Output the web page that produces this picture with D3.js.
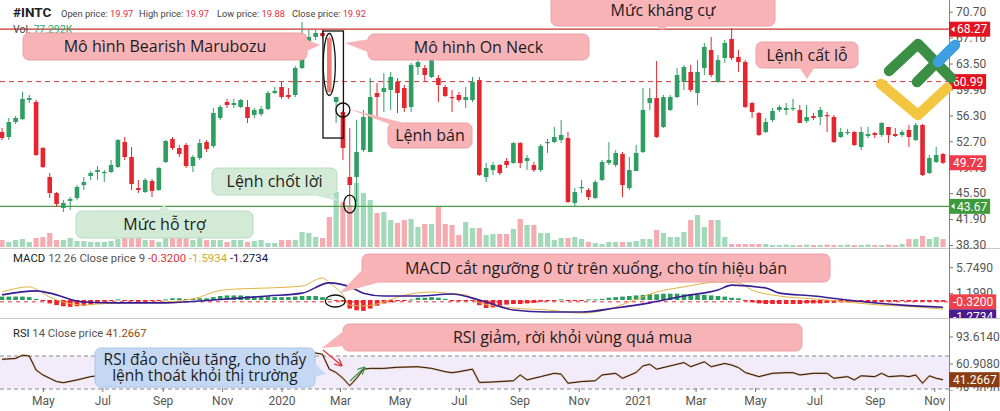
<!DOCTYPE html>
<html><head><meta charset="utf-8">
<script src="https://cdn.jsdelivr.net/npm/d3@7"></script>
<style>
html,body{margin:0;padding:0;background:#fff;}
svg{display:block;}
text{font-family:"Roboto","Liberation Sans",sans-serif;}
.note{font-family:"Open Sans","Noto Sans",sans-serif;font-weight:500;fill:#1c1c1c;}
</style></head><body>
<svg id="chart" width="1000" height="411"></svg>
<script>
// ---------------- DATA ----------------
const ticker = "#INTC";
const firstBar = "2019-03-20"; // weekly bars
const openP = [53.99,53.30,55.38,55.80,58.44,58.16,51.77,47.74,45.52,43.44,44.41,44.83,46.63,47.88,48.44,48.30,48.44,49.13,52.60,50.52,46.21,45.66,47.19,45.94,49.83,53.02,51.77,52.19,49.27,50.38,52.60,52.05,55.94,58.16,57.74,57.46,57.46,56.35,56.49,57.19,59.41,60.24,59.13,59.13,62.88,66.08,67.19,67.74,67.05,58.16,56.77,47.74,47.74,51.49,51.21,59.41,59.55,59.83,60.94,60.10,57.46,63.02,62.88,61.63,61.49,60.24,58.85,59.13,58.44,58.44,61.21,47.74,48.71,49.41,49.96,49.69,52.46,49.96,49.41,48.71,52.46,52.60,52.88,53.16,44.13,46.21,45.94,44.83,47.33,49.69,49.41,50.94,46.21,48.58,51.21,58.02,58.71,54.69,57.05,58.85,60.94,62.33,59.41,62.88,65.38,60.94,64.27,66.91,64.41,63.71,58.02,56.63,53.99,55.66,57.05,57.05,57.19,57.05,55.52,56.21,56.08,56.35,56.08,53.30,53.85,53.99,51.91,53.44,53.85,53.58,54.69,53.71,53.58,54.27,52.88,54.96,48.30,49.83,50.94];
const highP = [54.55,55.94,56.21,59.55,59.13,58.44,51.91,48.30,45.66,44.55,44.96,46.63,47.74,48.58,49.27,48.71,50.10,53.02,53.30,51.91,47.33,47.60,47.46,49.13,52.88,53.30,52.19,52.46,50.80,53.02,52.88,57.33,57.74,58.58,58.58,58.58,58.44,57.33,57.60,59.69,60.24,60.94,60.10,63.16,69.27,68.16,68.16,68.16,67.33,58.85,57.05,54.55,55.66,57.05,61.49,60.80,62.19,62.33,61.49,60.52,63.58,63.99,63.30,64.27,61.91,60.52,59.83,59.55,60.24,61.63,61.63,49.69,49.83,49.55,50.38,52.60,52.60,50.80,49.83,52.33,53.02,54.69,55.66,53.99,46.21,47.33,46.21,47.33,50.10,52.60,51.49,51.21,50.52,52.19,60.10,60.10,63.85,59.13,59.13,62.88,63.30,63.30,63.99,66.35,67.19,64.69,66.77,68.44,65.38,63.99,58.16,56.77,55.94,57.33,57.74,58.02,58.58,57.74,57.74,56.63,57.46,56.77,56.35,54.55,54.41,54.13,54.69,54.69,53.99,55.38,54.69,54.55,54.27,54.96,55.24,55.10,50.80,51.91,51.08];
const lowP = [52.88,52.88,55.10,55.66,58.02,50.66,48.99,44.83,43.58,42.88,43.16,44.55,45.94,47.33,47.33,47.05,48.30,48.99,50.10,45.94,45.52,45.52,44.96,45.80,49.69,51.49,50.52,48.99,48.44,50.10,51.21,51.77,55.66,57.33,57.33,57.33,55.24,55.94,56.21,57.05,59.27,58.58,58.58,58.85,62.74,65.38,66.77,67.05,59.41,55.24,50.10,43.85,44.27,51.21,51.21,56.08,56.77,57.05,56.63,56.77,56.77,61.91,60.94,61.49,58.16,58.85,56.77,58.16,57.33,58.16,47.88,47.05,48.02,48.02,48.99,49.55,48.99,48.71,48.44,48.44,51.08,52.46,52.46,44.13,43.58,45.52,44.55,44.69,47.19,49.41,49.13,44.96,45.94,48.58,51.08,57.05,53.16,54.55,56.91,58.71,59.83,59.55,57.74,61.91,61.63,60.80,63.58,63.99,62.33,57.33,55.94,53.44,53.85,55.38,56.77,56.35,56.91,55.24,55.24,55.66,54.96,53.99,52.46,53.16,53.58,52.05,51.49,53.16,53.16,53.30,52.46,53.30,53.30,51.91,52.74,47.88,48.16,49.69,49.55];
const closeP = [53.16,55.38,55.94,58.58,58.71,50.80,49.13,45.52,43.99,44.13,44.69,46.35,47.05,48.30,48.71,48.44,49.41,52.88,50.52,46.77,45.94,47.33,45.80,48.99,52.74,51.77,50.94,49.27,50.52,52.46,51.63,56.63,57.46,57.74,58.02,58.44,55.94,57.05,57.19,59.41,59.69,58.85,58.85,62.88,64.27,67.19,67.74,67.33,59.55,58.85,51.77,46.63,51.21,56.08,58.85,58.85,60.10,61.63,59.41,57.33,63.30,63.71,61.91,63.99,60.52,58.99,58.71,58.44,58.85,60.94,48.02,48.99,49.41,48.30,49.41,52.46,49.69,50.38,48.71,52.05,52.60,53.30,53.58,44.27,45.66,46.35,44.96,47.05,49.83,50.10,51.08,46.63,48.71,51.08,57.05,58.71,53.30,58.85,58.85,61.91,63.02,59.83,62.33,65.80,61.91,63.99,66.35,64.27,63.71,57.46,56.77,53.58,55.38,56.91,57.46,57.33,57.33,55.24,56.08,55.94,57.05,56.21,52.60,53.99,53.99,52.19,53.99,53.71,53.58,55.24,53.58,53.44,53.99,53.30,54.96,48.02,50.38,50.80,49.72];
// weekly volume, millions of shares
const volume = [35,25,35,40,25,45,50,70,35,35,45,30,30,25,25,25,30,40,50,55,45,35,35,25,45,50,50,55,35,45,35,35,35,25,35,35,25,30,35,20,20,35,35,35,75,70,50,45,150,275,225,210,320,270,235,170,175,135,120,135,140,100,115,115,200,115,110,60,125,95,95,60,65,65,65,90,140,110,110,70,70,35,45,45,50,40,25,20,15,25,25,25,25,30,40,40,85,70,50,50,75,135,160,100,135,135,50,15,15,15,15,15,15,10,10,12,10,10,12,10,10,12,10,10,12,10,10,12,10,10,12,10,15,40,40,55,40,50,40];
// key levels
const resistanceLevel = 68.27, stopLossLevel = 60.99, supportLevel = 43.67, lastClose = 49.72;
const priceTicks = [38.30,41.90,45.50,49.10,52.70,56.30,59.90,63.50,67.10,70.70];
// MACD 12 26 9: [bar index, value]
const macdLine = [[0,1.4],[4,2.3],[5,1.9],[7,0.5],[9,-0.35],[12,-0.9],[14,-0.7],[19,-0.5],[24,-0.35],[29,0.5],[31,1.4],[34,1.9],[39,2.1],[44,2.45],[47,3.85],[48,3.0],[50,0.9],[51,-0.9],[53,-1.05],[56,-0.35],[58,0.5],[63,1.4],[66,1.1],[68,0.9],[70,-0.5],[75,-1.4],[80,-1.75],[85,-2.3],[89,-1.6],[92,-0.35],[96,1.4],[100,2.3],[105,3.15],[108,3.0],[110,1.75],[114,0.7],[119,0.2],[124,-0.35],[129,-0.9],[132,-1.05],[138,-1.5934]];
const signalLine = [[0,0.9],[5,1.6],[7,1.2],[12,-0.35],[17,-0.5],[24,-0.5],[31,0],[39,0.7],[44,1.2],[48,3.0],[51,2.3],[53,1.2],[56,0.7],[61,0.7],[66,1.05],[70,0],[75,-1.75],[80,-2.1],[85,-2.1],[90,-1.4],[95,-0.5],[100,0.7],[105,1.75],[107,2.6],[112,2.1],[114,1.2],[119,0.7],[124,0],[132,-0.9],[138,-1.2734]];
const macdHist = [0.6,0.6,0.6,0.6,0.5,0.2,-0.1,-0.6,-0.9,-1.1,-1.2,-1.1,-1.0,-0.8,-0.6,-0.3,-0.2,0.1,-0.1,-0.2,-0.3,-0.3,-0.2,-0.1,0.1,0.3,0.3,0.2,0.2,0.3,0.3,0.5,0.7,0.8,0.8,0.8,0.7,0.6,0.6,0.6,0.5,0.5,0.5,0.6,0.7,0.7,0.7,0.5,0.2,-0.1,-0.3,-1.5,-1.8,-1.9,-1.5,-1.0,-0.6,-0.4,-0.2,-0.1,0.1,0.4,0.4,0.5,0.4,0.2,-0.2,-0.2,-0.1,-0.1,-0.9,-1.4,-1.3,-1.0,-0.8,-0.7,-0.7,-0.6,-0.5,-0.3,-0.2,-0.1,0.1,-0.1,-0.2,-0.1,0.1,0.1,0.2,0.4,0.5,0.6,0.7,0.8,0.9,1.0,1.0,1.1,1.1,1.1,1.0,1.0,0.9,0.9,0.8,0.7,0.6,0.4,0.3,-0.1,-0.4,-0.6,-0.7,-0.7,-0.7,-0.7,-0.7,-0.7,-0.6,-0.6,-0.6,-0.5,-0.5,-0.4,-0.4,-0.3,-0.3,-0.4,-0.4,-0.3,-0.3,-0.3,-0.2,-0.3,-0.3,-0.3,-0.3,-0.3,-0.32];
const macdTicks = [5.749, 1.199];
// RSI 14: [bar index, value]
const rsiLine = [[0,66],[2,67],[3,71],[4,70],[5,53],[6,47],[8,39],[9,37.7],[11,41],[13,45],[15,47],[17,55],[19,46],[21,47],[23,52],[24,58],[26,55],[27,50],[29,55],[31,63],[33,66],[36,60],[39,65],[41,62],[43,70],[45,74],[46,73.6],[47,72],[48,54],[49,50],[50,43],[51,34],[52,43],[53,54],[54,55],[56,55],[58,56.3],[61,57],[63,55],[65,51],[66,49.8],[67,51],[69,54],[70,38],[72,38.5],[73,39],[75,40],[76,47],[77,41],[79,45],[81,49],[82,48],[83,37],[85,39],[87,40],[88,47],[90,49],[91,43],[93,50],[94,58],[95,60],[96,54],[98,58],[100,62],[101,57],[103,63],[104,57],[106,61],[107,59],[108,56],[109,50],[111,45],[113,49],[115,49.8],[116,49.8],[117,47],[119,49],[121,49],[122,43],[124,45],[125,41],[126,46],[128,45],[129,49],[130,45],[132,46],[133,45],[134,47],[135,37],[136,46],[137,43],[138,41.2667]];
const rsiTicks = [93.614, 60.908, 28.202];
const rsiBand = [30, 70];
const header = {open:"19.97", high:"19.97", low:"19.88", close:"19.92", vol:"77.292K"};
const macdValues = {hist:"-0.3200", macd:"-1.5934", signal:"-1.2734"};

// ---------------- CHART ----------------
const svg = d3.select("#chart");
const axisX = 949;
const GREEN = "#2f9e62", RED = "#e5262e";
const dates = openP.map((_, i) => d3.timeDay.offset(new Date(2019, 2, 20), 7 * i));
const x = d3.scaleTime().domain([dates[0], dates[dates.length - 1]]).range([2, 943]);
const yP = d3.scaleLinear().domain([38.30, 70.70]).range([245, 11.7]);
const yV = d3.scaleLinear().domain([0, 320]).range([247, 183]);
const yM = d3.scaleLinear().domain([-3, 6]).range([317.13, 265.74]);
const yR = d3.scaleLinear().domain([30, 70]).range([389, 356]);

const defs = svg.append("defs");
function clip(id, x0, y0, w, h) { defs.append("clipPath").attr("id", id).append("rect").attr("x", x0).attr("y", y0).attr("width", w).attr("height", h); }
clip("cMain", 0, 0, axisX, 248); clip("cMacd", 0, 249, axisX, 69); clip("cRsi", 0, 319, axisX, 72);
clip("cMacdAx", axisX, 249, 60, 69); clip("cRsiAx", axisX, 319, 60, 72);
defs.append("marker").attr("id", "arrR").attr("viewBox", "0 0 10 10").attr("refX", 8).attr("refY", 5).attr("markerWidth", 6).attr("markerHeight", 6).attr("orient", "auto")
  .append("path").attr("d", "M0,0 L10,5 L0,10").attr("fill", "none").attr("stroke", "#e0343a").attr("stroke-width", 1.6);
defs.append("marker").attr("id", "arrG").attr("viewBox", "0 0 10 10").attr("refX", 8).attr("refY", 5).attr("markerWidth", 6).attr("markerHeight", 6).attr("orient", "auto")
  .append("path").attr("d", "M0,0 L10,5 L0,10").attr("fill", "none").attr("stroke", "#3a9a50").attr("stroke-width", 1.6);

// ---- main panel
const gMain = svg.append("g").attr("clip-path", "url(#cMain)");
gMain.selectAll("rect.vol").data(volume).join("rect")
  .attr("x", (d, i) => x(dates[i]) - 2.6).attr("width", 5.2)
  .attr("y", d => yV(d)).attr("height", d => yV(0) - yV(d))
  .attr("fill", (d, i) => closeP[i] >= openP[i] ? "#a3d9bb" : "#f5abb0");

gMain.append("line").attr("x1", 0).attr("x2", axisX).attr("y1", yP(resistanceLevel)).attr("y2", yP(resistanceLevel)).attr("stroke", "#c8302c").attr("stroke-width", 1.2);
gMain.append("line").attr("x1", 0).attr("x2", axisX).attr("y1", yP(stopLossLevel)).attr("y2", yP(stopLossLevel)).attr("stroke", "#d0343a").attr("stroke-width", 1).attr("stroke-dasharray", "5,4");
gMain.append("line").attr("x1", 0).attr("x2", axisX).attr("y1", yP(supportLevel)).attr("y2", yP(supportLevel)).attr("stroke", "#4a9e46").attr("stroke-width", 1.2);

const candles = gMain.selectAll("g.c").data(openP).join("g");
const cCol = i => i === 48 ? "#ef7f74" : (closeP[i] >= openP[i] ? GREEN : RED);
candles.append("line").attr("x1", (d, i) => x(dates[i])).attr("x2", (d, i) => x(dates[i]))
  .attr("y1", (d, i) => yP(highP[i])).attr("y2", (d, i) => yP(lowP[i])).attr("stroke", (d, i) => cCol(i)).attr("stroke-width", 1);
candles.append("rect").attr("x", (d, i) => x(dates[i]) - 2.3).attr("width", 4.6)
  .attr("y", (d, i) => yP(Math.max(openP[i], closeP[i])))
  .attr("height", (d, i) => Math.max(1.2, Math.abs(yP(openP[i]) - yP(closeP[i]))))
  .attr("fill", (d, i) => cCol(i));

// header
const hdr = svg.append("g").attr("font-size", 9.3);
hdr.append("text").attr("x", 13).attr("y", 17).attr("font-size", 13.5).attr("font-weight", 700).attr("fill", "#222").text(ticker);
[["Open price: ", header.open, 61], ["High price: ", header.high, 139], ["Low price: ", header.low, 217], ["Close price: ", header.close, 292]].forEach(([l, v, px]) => {
  const t = hdr.append("text").attr("x", px).attr("y", 17).attr("fill", "#444");
  t.append("tspan").text(l); t.append("tspan").attr("fill", "#e0303a").text(v);
});
const vt = hdr.append("text").attr("x", 13).attr("y", 33).attr("fill", "#444").attr("font-size", 10.5);
vt.append("tspan").text("Vol. "); vt.append("tspan").attr("fill", "#2aa565").text(header.vol);

// ---- MACD panel
const gM = svg.append("g").attr("clip-path", "url(#cMacd)");
gM.append("line").attr("x1", 0).attr("x2", axisX).attr("y1", yM(+macdValues.hist)).attr("y2", yM(+macdValues.hist)).attr("stroke", "#e8303a").attr("stroke-dasharray", "4,4");
gM.selectAll("rect.h").data(macdHist).join("rect")
  .attr("x", (d, i) => x(dates[i]) - 2.3).attr("width", 4.6)
  .attr("y", d => Math.min(yM(0), yM(d))).attr("height", d => Math.max(1, Math.abs(yM(d) - yM(0))))
  .attr("fill", d => d >= 0 ? "#2a9d5c" : "#f0222e");
const lineGen = sc => d3.line().x(d => x(dates[d[0]])).y(d => sc(d[1])).curve(d3.curveMonotoneX);
gM.append("path").attr("d", lineGen(yM)(macdLine)).attr("fill", "none").attr("stroke", "#e2b440").attr("stroke-width", 1);
gM.append("path").attr("d", lineGen(yM)(signalLine)).attr("fill", "none").attr("stroke", "#3a1c94").attr("stroke-width", 1.6);
const mt = svg.append("text").attr("x", 13).attr("y", 262).attr("font-size", 11.4).attr("fill", "#555");
mt.append("tspan").attr("fill", "#222").text("MACD");
mt.append("tspan").text(" 12 26 Close price 9 ");
mt.append("tspan").attr("fill", "#e0303a").text(macdValues.hist + " ");
mt.append("tspan").attr("fill", "#d4a830").text(macdValues.macd + " ");
mt.append("tspan").attr("fill", "#1a1040").text(macdValues.signal);

// ---- RSI panel
const gR = svg.append("g").attr("clip-path", "url(#cRsi)");
gR.append("rect").attr("x", 0).attr("width", axisX).attr("y", yR(rsiBand[1])).attr("height", yR(rsiBand[0]) - yR(rsiBand[1])).attr("fill", "#f1ebfa");
rsiBand.forEach(v => gR.append("line").attr("x1", 0).attr("x2", axisX).attr("y1", yR(v)).attr("y2", yR(v)).attr("stroke", "#8a8a8a").attr("stroke-dasharray", "4,3"));
gR.append("path").attr("d", lineGen(yR).curve(d3.curveLinear)(rsiLine)).attr("fill", "none").attr("stroke", "#c27a2a").attr("stroke-width", 2).attr("opacity", 0.5);
gR.append("path").attr("d", lineGen(yR).curve(d3.curveLinear)(rsiLine)).attr("fill", "none").attr("stroke", "#2e1608").attr("stroke-width", 1);
const rt = svg.append("text").attr("x", 13).attr("y", 337).attr("font-size", 11.2).attr("fill", "#555");
rt.append("tspan").attr("fill", "#222").text("RSI");
rt.append("tspan").text(" 14 Close price ");
rt.append("tspan").attr("fill", "#8b4a10").text(d3.format(".4f")(rsiLine[rsiLine.length - 1][1]));

// ---- separators & axes
[248.5, 318.5].forEach(y => svg.append("line").attr("x1", 0).attr("x2", 1000).attr("y1", y).attr("y2", y).attr("stroke", "#c8c8c8"));
svg.append("line").attr("x1", axisX + 0.5).attr("x2", axisX + 0.5).attr("y1", 0).attr("y2", 411).attr("stroke", "#7d8790");

function styleAxis(g) {
  g.select(".domain").remove();
  g.selectAll(".tick line").attr("stroke", "#777");
  g.selectAll(".tick text").attr("fill", "#555").attr("font-size", 12).attr("font-family", "Roboto, Liberation Sans, sans-serif");
}
svg.append("g").attr("transform", `translate(${axisX},0)`).call(d3.axisRight(yP).tickValues(priceTicks).tickFormat(d3.format(".2f")).tickSize(4).tickPadding(3)).call(styleAxis);
svg.append("g").attr("clip-path", "url(#cMacdAx)").append("g").attr("transform", `translate(${axisX},0)`).call(d3.axisRight(yM).tickValues(macdTicks).tickFormat(d3.format(".4f")).tickSize(4).tickPadding(3)).call(styleAxis);
svg.append("g").attr("clip-path", "url(#cRsiAx)").append("g").attr("transform", `translate(${axisX},0)`).call(d3.axisRight(yR).tickValues(rsiTicks).tickFormat(d3.format(".4f")).tickSize(4).tickPadding(3)).call(styleAxis);
svg.append("g").attr("transform", "translate(0,388)").call(d3.axisBottom(x).ticks(d3.timeMonth.every(2)).tickSize(4).tickPadding(4)
  .tickFormat(d => d.getMonth() === 0 ? d3.timeFormat("%Y")(d) : d3.timeFormat("%b")(d))).call(styleAxis);

// value labels on the price scale
function valueLabel(parent, y, text, bg, arrow) {
  const g = parent.append("g");
  const r = g.append("rect").attr("x", axisX).attr("y", y - 7.5).attr("height", 15).attr("fill", bg);
  const tx = axisX + (arrow ? 8 : 4);
  const t = g.append("text").attr("x", tx).attr("y", y).attr("dy", "0.35em").attr("fill", "#fff").attr("font-size", 12).text(text);
  const w = t.node().getComputedTextLength();
  r.attr("width", tx - axisX + w + 3);
  if (arrow) g.append("path").attr("d", `M${axisX + 2},${y} L${axisX + 5.5},${y - 3} L${axisX + 5.5},${y + 3}Z`).attr("fill", "#fff");
}
valueLabel(svg, yP(resistanceLevel), d3.format(".2f")(resistanceLevel), "#e3141f", true);
valueLabel(svg, yP(stopLossLevel), d3.format(".2f")(stopLossLevel), "#e3141f", false);
valueLabel(svg, yP(lastClose), d3.format(".2f")(lastClose), "#f03a4c", false);
valueLabel(svg, yP(supportLevel), d3.format(".2f")(supportLevel), "#3f9a3c", true);
const gMl = svg.append("g").attr("clip-path", "url(#cMacdAx)");
const yHist = yM(+macdValues.hist);
valueLabel(gMl, yHist, macdValues.hist, "#f0404c", false);
valueLabel(gMl, Math.max(yM(+macdValues.signal), yHist + 15), macdValues.signal, "#4b1a8c", false);
valueLabel(svg.append("g").attr("clip-path", "url(#cRsiAx)"), yR(rsiLine[rsiLine.length - 1][1]), d3.format(".4f")(rsiLine[rsiLine.length - 1][1]), "#8a3d10", false);

// ---- markings
const mk = svg.append("g").attr("fill", "none").attr("stroke", "#111").attr("stroke-width", 1.3);
mk.append("rect").attr("x", x(dates[47]) + 0.5).attr("y", yP(highP[47]) + 1).attr("width", x(dates[50]) - x(dates[47])).attr("height", yP(lowP[49]) - yP(highP[47]) + 14);
mk.append("ellipse").attr("cx", x(dates[48])).attr("cy", (yP(highP[48]) + yP(lowP[48])) / 2).attr("rx", 6).attr("ry", 31);
mk.append("circle").attr("cx", x(dates[50])).attr("cy", yP(openP[50]) - 2).attr("r", 7);
mk.append("ellipse").attr("cx", x(dates[51])).attr("cy", yP(lowP[51]) - 1).attr("rx", 6).attr("ry", 9);
mk.append("ellipse").attr("cx", x(dates[48]) + 6).attr("cy", yM(0) + 1).attr("rx", 10).attr("ry", 6);

// ---- annotations
const PINK = "#f8b3b7", PINKS = "#eca0a6", GRN = "#d2ead6", GRNS = "#b6dcbf", BLUE = "#c4d8f4", BLUES = "#a9c4ec";
const notes = [
  {lines: ["Mô hình Bearish Marubozu"], b: [23, 33, 284, 27], f: PINK, s: PINKS, tail: [[305, 39], [305, 52], [320, 45]]},
  {lines: ["Mô hình On Neck"], b: [368, 34, 221, 26], f: PINK, s: PINKS, tail: [[370, 39], [370, 53], [345, 43]]},
  {lines: ["Lệnh bán"], b: [388, 123, 84, 25], f: PINK, s: PINKS, tail: [[392, 125], [412, 125], [349, 109]]},
  {lines: ["Lệnh chốt lời"], b: [212, 168, 125, 27], f: GRN, s: GRNS, tail: [[303, 193], [325, 193], [343, 202]]},
  {lines: ["Mức hỗ trợ"], b: [76, 211, 177, 27], f: GRN, s: GRNS, tail: [[157, 212], [171, 212], [164, 205]]},
  {lines: ["Mức kháng cự"], b: [551, -5, 224, 31], f: PINK, s: PINKS, tail: [[655, 25], [669, 25], [662, 30]]},
  {lines: ["Lệnh cất lỗ"], b: [756, 42, 102, 26], f: PINK, s: PINKS, tail: [[799, 67], [815, 67], [807, 79]]},
  {lines: ["MACD cắt ngưỡng 0 từ trên xuống, cho tín hiệu bán"], b: [362, 254, 468, 28], f: PINK, s: PINKS, tail: [[364, 268], [384, 281], [340, 293]]},
  {lines: ["RSI giảm, rời khỏi vùng quá mua"], b: [343, 324, 459, 27], f: PINK, s: PINKS, tail: [[345, 330], [345, 346], [322, 348]]},
  {lines: ["RSI đảo chiều tăng, cho thấy", "lệnh thoát khỏi thị trường"], b: [95, 348, 220, 39], f: BLUE, s: BLUES, tail: [[313, 362], [313, 377], [326, 374]], fs: 15.5}
];
const gN = svg.append("g");
notes.forEach(n => {
  const [bx, by, bw, bh] = n.b;
  gN.append("rect").attr("x", bx).attr("y", by).attr("width", bw).attr("height", bh).attr("rx", 6).attr("fill", n.f).attr("stroke", n.s).attr("stroke-width", 1);
  gN.append("path").attr("d", "M" + n.tail.map(p => p.join(",")).join("L") + "Z").attr("fill", n.f);
  const fs = n.fs || 16;
  const lh = fs * 1.08;
  n.lines.forEach((l, k) => {
    gN.append("text").attr("class", "note").attr("x", bx + bw / 2).attr("y", by + bh / 2 + (k - (n.lines.length - 1) / 2) * lh)
      .attr("dy", "0.36em").attr("text-anchor", "middle").attr("font-size", fs).text(l);
  });
});
svg.append("line").attr("x1", 323).attr("y1", 350).attr("x2", 341).attr("y2", 365).attr("stroke", "#e0343a").attr("stroke-width", 1.3).attr("marker-end", "url(#arrR)");
svg.append("line").attr("x1", 350).attr("y1", 381).attr("x2", 364).attr("y2", 368).attr("stroke", "#3a9a50").attr("stroke-width", 1.3).attr("marker-end", "url(#arrG)");

// ---- logo
const lg = svg.append("g").attr("fill", "none").attr("stroke-linecap", "round").attr("stroke-linejoin", "round").attr("stroke-width", 10.5);
lg.append("path").attr("d", "M881,84 L918,115 L947,88").attr("stroke", "#f2c641");
lg.append("path").attr("d", "M889,71 L918,44 L951,78").attr("stroke", "#3b8f45");
lg.append("path").attr("d", "M917,82 L934,65").attr("stroke", "#3b8f45");
lg.append("path").attr("d", "M938,62 L955,45").attr("stroke", "#3d9fe0");
</script>
</body></html>
